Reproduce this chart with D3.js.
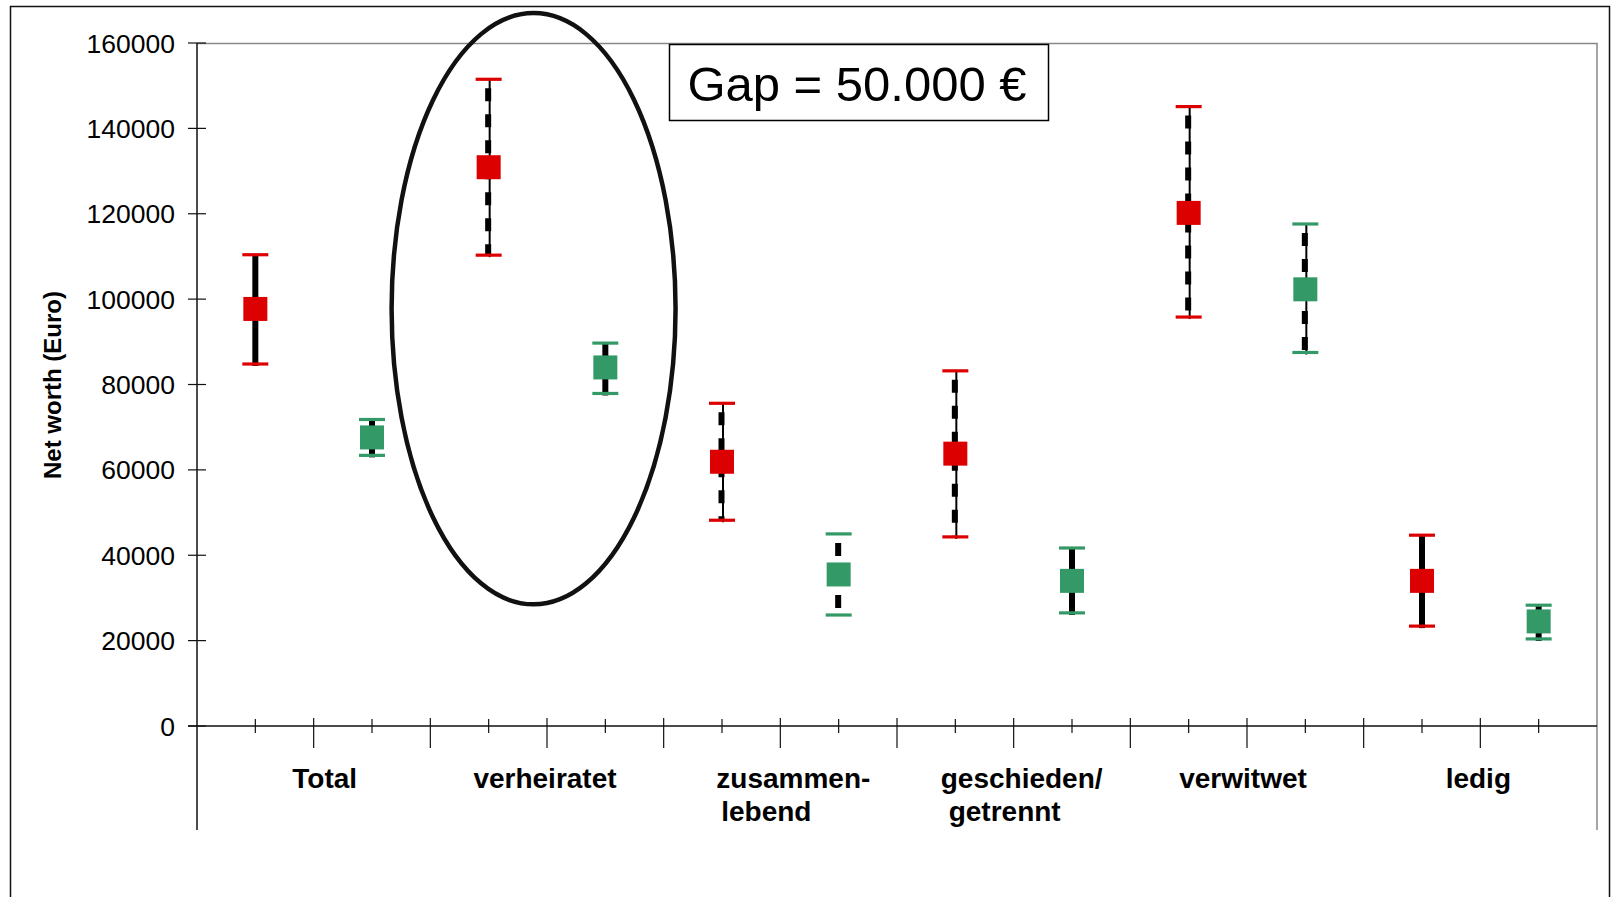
<!DOCTYPE html>
<html>
<head>
<meta charset="utf-8">
<script src="https://cdn.jsdelivr.net/npm/d3@7"></script>
<style>
  body { margin: 0; background: #fff; }
  svg { display: block; font-family: "Liberation Sans", Arial, sans-serif; }
</style>
</head>
<body>
<svg id="chart" width="1612" height="897"></svg>
<script>
// categories (two points per category: red and green)
var categories = ["Total", "verheiratet", "zusammen-|lebend", "geschieden/|getrennt", "verwitwet", "ledig"];

// red series: mean, lower and upper bound
var redMean = [97700, 130900, 61900, 63800, 120200, 34000];
var redLow  = [84800, 110300, 48200, 44300, 95800, 23400];
var redHigh = [110400, 151500, 75600, 83200, 145100, 44700];
var redStyle = ["solid", "dashed", "dashed", "dashed", "dashed", "solid"];

// green series
var greenMean = [67600, 84000, 35500, 34000, 102300, 24500];
var greenLow  = [63400, 77900, 26000, 26500, 87500, 20400];
var greenHigh = [71800, 89700, 45000, 41700, 117600, 28300];
var greenStyle = ["solid", "solid", "dashonly", "solid", "dashed", "solid"];

var yTicks = [0, 20000, 40000, 60000, 80000, 100000, 120000, 140000, 160000];

// small horizontal nudges of the label lines (px)
var labelShift = [[11], [-2], [13, -14], [8, -9], [-4], [-2]];

var svg = d3.select("#chart"),
  margin = { top: 43, right: 15, bottom: 171, left: 197 },
  width = 1400,
  height = 683;

var red = "#dd0000", green = "#339966";

// outer frame
svg.append("rect")
  .attr("x", 10.5).attr("y", 6.5)
  .attr("width", 1599).attr("height", 920)
  .attr("fill", "none").attr("stroke", "#111").attr("stroke-width", 1.5);

var g = svg.append("g").attr("transform", "translate(" + margin.left + "," + margin.top + ")");

var x = d3.scaleLinear().domain([0, categories.length * 2]).range([0, width]);
var y = d3.scaleLinear().domain([0, 160000]).range([height, 0]);

// plot frame (top + right in grey)
g.append("path")
  .attr("d", "M0,0.5H" + width + "V" + (height + 104))
  .attr("fill", "none").attr("stroke", "#888").attr("stroke-width", 1.5);

// y axis
var yAxis = g.append("g").attr("class", "axis axis--y");
yAxis.append("line")
  .attr("x1", 0).attr("x2", 0).attr("y1", 0).attr("y2", height + 104)
  .attr("stroke", "#111").attr("stroke-width", 1.5);
yAxis.selectAll(".tick")
  .data(yTicks)
  .enter().append("line")
  .attr("x1", -9).attr("x2", 9)
  .attr("y1", function(d) { return y(d); })
  .attr("y2", function(d) { return y(d); })
  .attr("stroke", "#111").attr("stroke-width", 1.2);
yAxis.selectAll(".lbl")
  .data(yTicks)
  .enter().append("text")
  .attr("x", -22)
  .attr("y", function(d) { return y(d); })
  .attr("dy", "0.36em")
  .attr("text-anchor", "end")
  .attr("font-size", 26.5)
  .attr("fill", "#000")
  .text(function(d) { return d; });

svg.append("text")
  .attr("transform", "translate(61,385) rotate(-90)")
  .attr("text-anchor", "middle")
  .attr("font-size", 24)
  .attr("font-weight", "bold")
  .text("Net worth (Euro)");

// x axis
var xAxis = g.append("g").attr("class", "axis axis--x").attr("transform", "translate(0," + height + ")");
xAxis.append("line")
  .attr("x1", -9).attr("x2", width).attr("y1", 0).attr("y2", 0)
  .attr("stroke", "#111").attr("stroke-width", 1.5);
xAxis.selectAll(".major")
  .data(d3.range(1, categories.length * 2))
  .enter().append("line")
  .attr("x1", function(d) { return x(d); })
  .attr("x2", function(d) { return x(d); })
  .attr("y1", -8).attr("y2", 22)
  .attr("stroke", "#111").attr("stroke-width", 1.2);
xAxis.selectAll(".minor")
  .data(d3.range(0, categories.length * 2))
  .enter().append("line")
  .attr("x1", function(d) { return x(d + 0.5); })
  .attr("x2", function(d) { return x(d + 0.5); })
  .attr("y1", -7).attr("y2", 7)
  .attr("stroke", "#111").attr("stroke-width", 1.2);

xAxis.selectAll(".cat")
  .data(categories)
  .enter().append("text")
  .attr("text-anchor", "middle")
  .attr("font-size", 28)
  .attr("font-weight", "bold")
  .attr("transform", function(d, i) { return "translate(" + x(i * 2 + 1) + ",62)"; })
  .each(function(d, i) {
    var t = d3.select(this);
    d.split("|").forEach(function(line, k) {
      t.append("tspan").attr("x", labelShift[i][k]).attr("y", k * 33).text(line);
    });
  });

// points
var points = [];
categories.forEach(function(c, i) {
  points.push({ pos: i * 2 + 0.5, mean: redMean[i], low: redLow[i], high: redHigh[i], style: redStyle[i], color: red });
  points.push({ pos: i * 2 + 1.5, mean: greenMean[i], low: greenLow[i], high: greenHigh[i], style: greenStyle[i], color: green });
});

var pg = g.selectAll(".pt")
  .data(points)
  .enter().append("g")
  .attr("class", "pt")
  .attr("transform", function(d) { return "translate(" + x(d.pos) + ",0)"; });

// solid bars
pg.filter(function(d) { return d.style == "solid"; })
  .append("line")
  .attr("x1", 0).attr("x2", 0)
  .attr("y1", function(d) { return y(d.high); })
  .attr("y2", function(d) { return y(d.low) + 2; })
  .attr("stroke", "#000").attr("stroke-width", 6);

// thin line behind dashes
pg.filter(function(d) { return d.style == "dashed"; })
  .append("line")
  .attr("x1", 1).attr("x2", 1)
  .attr("y1", function(d) { return y(d.high); })
  .attr("y2", function(d) { return y(d.low) + 2; })
  .attr("stroke", "#000").attr("stroke-width", 2);

pg.filter(function(d) { return d.style != "solid"; })
  .append("line")
  .attr("x1", -0.5).attr("x2", -0.5)
  .attr("y1", function(d) { return y(d.high); })
  .attr("y2", function(d) { return y(d.low); })
  .attr("stroke", "#000").attr("stroke-width", 6)
  .attr("stroke-dasharray", "13,13")
  .attr("stroke-dashoffset", 17);

// caps
["high", "low"].forEach(function(k) {
  pg.append("line")
    .attr("x1", -13).attr("x2", 13)
    .attr("y1", function(d) { return y(d[k]); })
    .attr("y2", function(d) { return y(d[k]); })
    .attr("stroke", function(d) { return d.color; })
    .attr("stroke-width", 3.2);
});

// markers
pg.append("rect")
  .attr("x", -12).attr("width", 24)
  .attr("y", function(d) { return y(d.mean) - 12; })
  .attr("height", 24)
  .attr("fill", function(d) { return d.color; });

// annotation: ellipse round "verheiratet" and the gap box
g.append("ellipse")
  .attr("cx", x(2.885))
  .attr("cy", (y(167000) + y(28500)) / 2)
  .attr("rx", x(1.217) - x(0))
  .attr("ry", (y(28500) - y(167000)) / 2)
  .attr("fill", "none").attr("stroke", "#111").attr("stroke-width", 4.5);

svg.append("rect")
  .attr("x", 669.5).attr("y", 44.5)
  .attr("width", 379).attr("height", 76)
  .attr("fill", "#fff").attr("stroke", "#000").attr("stroke-width", 1.5);
svg.append("text")
  .attr("x", 857).attr("y", 101)
  .attr("text-anchor", "middle")
  .attr("font-size", 49)
  .text("Gap = 50.000 €");
</script>
</body>
</html>
